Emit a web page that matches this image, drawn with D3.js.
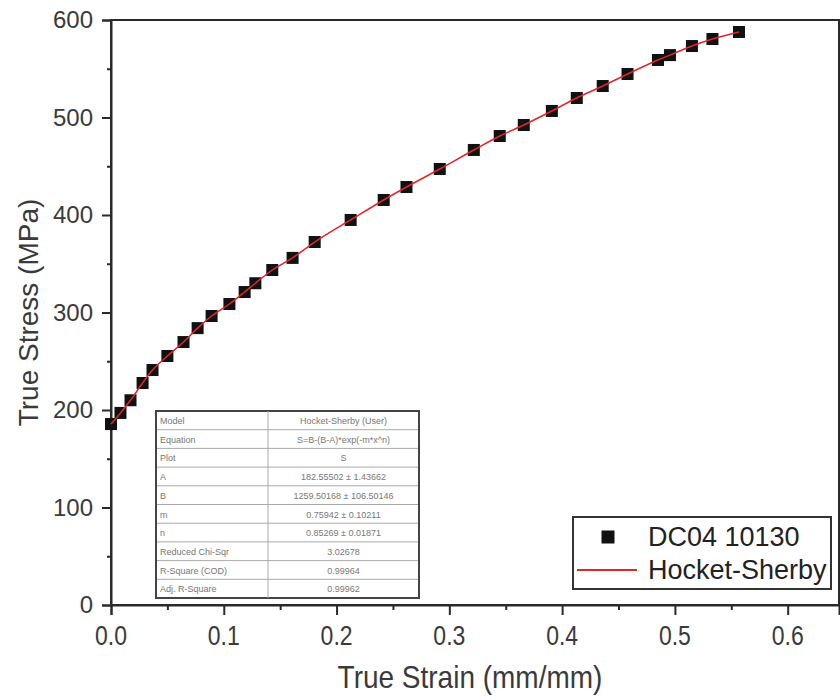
<html>
<head>
    <title>True stress vs true strain</title>
    <script src="https://cdn.jsdelivr.net/npm/d3@7/dist/d3.min.js"></script>
    <style type="text/css">
        body {
            margin: 0;
            background: white;
        }
        text {
            font-family: "Liberation Sans", Arial, sans-serif;
        }
    </style>
</head>
<body>
<script>
    var w = 840;
    var h = 700;

    // data
    var strain = [0.000, 0.0084, 0.0173, 0.028, 0.0368, 0.050, 0.0643, 0.0768, 0.0892, 0.105,
        0.1185, 0.128, 0.143, 0.161, 0.1806, 0.2125, 0.2418, 0.262, 0.2915, 0.3217,
        0.3447, 0.366, 0.3909, 0.413, 0.436, 0.458, 0.485, 0.4956, 0.5151, 0.5333, 0.5568];
    var stress = [185.6, 197, 210, 227.7, 241, 255.4, 269.7, 284, 296.4, 308.7,
        321, 330, 343.6, 356, 372.3, 394.9, 415.4, 428.7, 447.2, 466.7,
        481, 492.3, 506.7, 520, 532.3, 544.6, 559, 564, 573.3, 580.5, 587.7];
    var xTicks = [0, 0.1, 0.2, 0.3, 0.4, 0.5, 0.6];
    var xMinor = [0.05, 0.15, 0.25, 0.35, 0.45, 0.55];
    var yTicks = [0, 100, 200, 300, 400, 500, 600];
    var yMinor = [50, 150, 250, 350, 450, 550];
    var seriesNames = ["DC04 10130", "Hocket-Sherby"];
    var tableLabels = ["Model", "Equation", "Plot", "A", "B", "m", "n",
        "Reduced Chi-Sqr", "R-Square (COD)", "Adj. R-Square"];
    var tableValues = ["Hocket-Sherby (User)", "S=B-(B-A)*exp(-m*x^n)", "S",
        "182.55502 \u00b1 1.43662", "1259.50168 \u00b1 106.50146", "0.75942 \u00b1 0.10211",
        "0.85269 \u00b1 0.01871", "3.02678", "0.99964", "0.99962"];

    var dataset = strain.map(function(d, i) {
        return { x: d, y: stress[i] };
    });

    var svg = d3.select("body")
        .append("svg")
        .attr("width", w)
        .attr("height", h);

    var xScale = d3.scaleLinear().domain([0, 0.6455]).range([111, 839]);
    var yScale = d3.scaleLinear().domain([0, 600]).range([605, 20]);

    var axisColor = "#2a2a2a";
    var textColor = "#3a3a3a";

    // frame (top + right)
    svg.append("rect")
        .attr("x", xScale.range()[0])
        .attr("y", yScale.range()[1])
        .attr("width", xScale.range()[1] - xScale.range()[0])
        .attr("height", yScale.range()[0] - yScale.range()[1])
        .attr("fill", "none")
        .attr("stroke", axisColor)
        .attr("stroke-width", 2);

    // x axis
    var xAxis = svg.append("g")
        .attr("transform", "translate(0," + yScale(0) + ")")
        .call(d3.axisBottom(xScale).tickValues(xTicks).tickSize(10).tickFormat(""));
    svg.append("g")
        .attr("transform", "translate(0," + yScale(0) + ")")
        .call(d3.axisBottom(xScale).tickValues(xMinor).tickSize(5).tickFormat(""))
        .select(".domain").remove();

    // y axis
    var yAxis = svg.append("g")
        .attr("transform", "translate(" + xScale(0) + ",0)")
        .call(d3.axisLeft(yScale).tickValues(yTicks).tickSize(9).tickPadding(9));
    svg.append("g")
        .attr("transform", "translate(" + xScale(0) + ",0)")
        .call(d3.axisLeft(yScale).tickValues(yMinor).tickSize(4).tickFormat(""))
        .select(".domain").remove();

    svg.selectAll(".domain").attr("stroke", axisColor).attr("stroke-width", 2);
    svg.selectAll(".tick line").attr("stroke", axisColor).attr("stroke-width", 2);
    yAxis.selectAll("text")
        .attr("font-size", "24px")
        .attr("fill", textColor)
        .attr("font-family", "'Liberation Sans', Arial, sans-serif");

    // x tick labels, a little tall like the original
    svg.selectAll("text.xlab")
        .data(xTicks)
        .enter()
        .append("text")
        .attr("class", "xlab")
        .attr("transform", function(d) {
            return "translate(" + xScale(d) + ",645) scale(1,1.2)";
        })
        .attr("text-anchor", "middle")
        .attr("font-size", "23px")
        .attr("fill", textColor)
        .text(function(d) {
            return d3.format(".1f")(d);
        });

    // axis titles
    svg.append("text")
        .attr("transform", "translate(" + ((xScale.range()[0] + 839) / 2 - 5) + ",688) scale(1,1.15)")
        .attr("text-anchor", "middle")
        .attr("font-size", "28px")
        .attr("fill", textColor)
        .text("True Strain (mm/mm)");

    svg.append("text")
        .attr("transform", "translate(38," + yScale(300) + ") rotate(-90)")
        .attr("text-anchor", "middle")
        .attr("font-size", "28px")
        .attr("fill", textColor)
        .text("True Stress (MPa)");

    // fit table
    var tx = 156, ty = 411, tw = 263, rowH = 18.7, colSplit = 112;
    var table = svg.append("g").attr("transform", "translate(" + tx + "," + ty + ")");
    table.append("rect")
        .attr("width", tw)
        .attr("height", rowH * tableLabels.length)
        .attr("fill", "white")
        .attr("stroke", "#444")
        .attr("stroke-width", 2);
    table.selectAll("line.row")
        .data(tableLabels.slice(1))
        .enter()
        .append("line")
        .attr("class", "row")
        .attr("x1", 1)
        .attr("x2", tw - 1)
        .attr("y1", function(d, i) { return (i + 1) * rowH; })
        .attr("y2", function(d, i) { return (i + 1) * rowH; })
        .attr("stroke", "#aaa")
        .attr("stroke-width", 1);
    table.append("line")
        .attr("x1", colSplit).attr("x2", colSplit)
        .attr("y1", 0).attr("y2", rowH * tableLabels.length)
        .attr("stroke", "#aaa");
    table.selectAll("text.lab")
        .data(tableLabels)
        .enter()
        .append("text")
        .attr("class", "lab")
        .attr("x", 4)
        .attr("y", function(d, i) { return i * rowH + 13; })
        .attr("font-size", "9px")
        .attr("fill", "#777")
        .text(function(d) { return d; });
    table.selectAll("text.val")
        .data(tableValues)
        .enter()
        .append("text")
        .attr("class", "val")
        .attr("x", (colSplit + tw) / 2)
        .attr("y", function(d, i) { return i * rowH + 13; })
        .attr("text-anchor", "middle")
        .attr("font-size", "9px")
        .attr("fill", "#777")
        .text(function(d) { return d; });

    // fit line through the points
    var line = d3.line()
        .x(function(d) { return xScale(d.x); })
        .y(function(d) { return yScale(d.y); })
        .curve(d3.curveMonotoneX);

    // markers
    var ms = 12;
    svg.selectAll("rect.pt")
        .data(dataset)
        .enter()
        .append("rect")
        .attr("class", "pt")
        .attr("x", function(d) { return xScale(d.x) - ms / 2; })
        .attr("y", function(d) { return yScale(d.y) - ms / 2; })
        .attr("width", ms)
        .attr("height", ms)
        .attr("fill", "#111");

    svg.append("path")
        .datum(dataset)
        .attr("d", line)
        .attr("fill", "none")
        .attr("stroke", "#e3242b")
        .attr("stroke-width", 1.5);

    // legend
    var legend = svg.append("g").attr("transform", "translate(573,517)");
    legend.append("rect")
        .attr("width", 258)
        .attr("height", 72)
        .attr("fill", "white")
        .attr("stroke", "#333")
        .attr("stroke-width", 2);
    legend.append("rect")
        .attr("x", 35 - 6.5)
        .attr("y", 20 - 6.5)
        .attr("width", 13)
        .attr("height", 13)
        .attr("fill", "#111");
    legend.append("line")
        .attr("x1", 4).attr("x2", 64)
        .attr("y1", 53).attr("y2", 53)
        .attr("stroke", "#e3242b")
        .attr("stroke-width", 2);
    legend.selectAll("text")
        .data(seriesNames)
        .enter()
        .append("text")
        .attr("x", 75)
        .attr("y", function(d, i) { return 29 + i * 33; })
        .attr("font-size", "27px")
        .attr("fill", "#222")
        .text(function(d) { return d; });
</script>
</body>
</html>
